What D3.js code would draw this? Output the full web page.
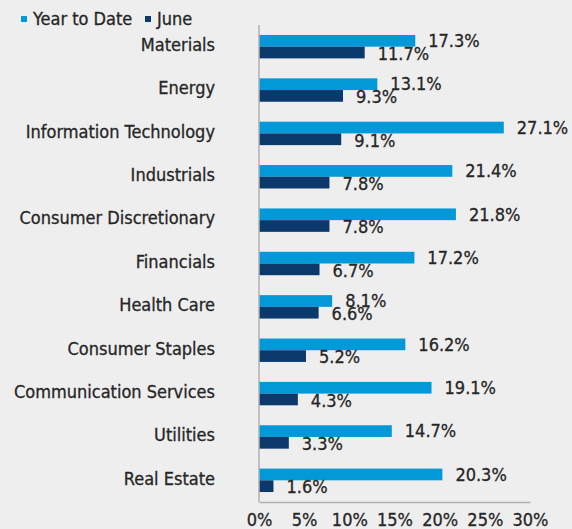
<!DOCTYPE html>
<html>
<head>
<meta charset="utf-8">
<script src="https://cdn.jsdelivr.net/npm/d3@7"></script>
<style>
  body { margin: 0; background: #eeeeee; }
  svg text { font-family: "Liberation Sans Narrow", "Arial Narrow", "DejaVu Sans Condensed", sans-serif; fill: #262626; stroke: #262626; stroke-width: 0.3px; }
</style>
</head>
<body>
<div id="chart"></div>
<script>
var WIDTH = 572, HEIGHT = 529;

// chart data
var categories = ['Materials', 'Energy', 'Information Technology', 'Industrials',
    'Consumer Discretionary', 'Financials', 'Health Care', 'Consumer Staples',
    'Communication Services', 'Utilities', 'Real Estate'];
var yearToDate = [17.3, 13.1, 27.1, 21.4, 21.8, 17.2, 8.1, 16.2, 19.1, 14.7, 20.3];
var june = [11.7, 9.3, 9.1, 7.8, 7.8, 6.7, 6.6, 5.2, 4.3, 3.3, 1.6];
var seriesNames = ['Year to Date', 'June'];
var tickValues = [0, 5, 10, 15, 20, 25, 30];

var YTD_COLOR = '#0399d8';
var JUNE_COLOR = '#0c396b';

var svg = d3.select('#chart')
    .append('svg')
    .attr('width', WIDTH)
    .attr('height', HEIGHT);

svg.append('rect')
    .attr('width', WIDTH).attr('height', HEIGHT)
    .attr('fill', '#eeeeee');

var x = d3.scaleLinear().domain([0, 30]).range([259, 530]);
var y = d3.scaleBand().domain(categories).range([25, 502])
    .paddingInner(0.46).paddingOuter(0.23);
var barH = y.bandwidth() / 2;

var rows = categories.map(function(c, i) {
    return {cat: c, ytd: yearToDate[i], jun: june[i]};
});

// bars
var g = svg.selectAll('g.row').data(rows).enter()
    .append('g').classed('row', true)
    .attr('transform', function(d) { return 'translate(0,' + y(d.cat) + ')'; });

g.append('rect')
    .attr('x', x(0))
    .attr('y', 0)
    .attr('width', function(d) { return x(d.ytd) - x(0); })
    .attr('height', barH)
    .attr('fill', YTD_COLOR);

g.append('rect')
    .attr('x', x(0))
    .attr('y', barH)
    .attr('width', function(d) { return x(d.jun) - x(0); })
    .attr('height', barH)
    .attr('fill', JUNE_COLOR);

// value labels
g.append('text')
    .attr('x', function(d) { return x(d.ytd) + 13; })
    .attr('y', barH / 2)
    .attr('dy', '0.35em')
    .style('font-size', '18px')
    .text(function(d) { return d.ytd.toFixed(1) + '%'; });

g.append('text')
    .attr('x', function(d) { return x(d.jun) + 13; })
    .attr('y', barH * 1.5 + 1)
    .attr('dy', '0.35em')
    .style('font-size', '18px')
    .text(function(d) { return d.jun.toFixed(1) + '%'; });

// category labels
g.append('text')
    .attr('x', 215)
    .attr('y', barH - 2)
    .attr('dy', '0.35em')
    .attr('text-anchor', 'end')
    .style('font-size', '18px')
    .text(function(d) { return d.cat; });

// axes
var xAxis = d3.axisBottom(x)
    .tickValues(tickValues)
    .tickSize(0)
    .tickPadding(11)
    .tickFormat(function(d) { return d + '%'; });

var axG = svg.append('g')
    .attr('transform', 'translate(0,502)')
    .call(xAxis);
axG.select('.domain').attr('stroke', '#b0b0b0').attr('stroke-width', 1.5);
axG.selectAll('text').style('font-size', '18px').attr('fill', '#262626');

svg.append('line')
    .attr('x1', x(0)).attr('x2', x(0))
    .attr('y1', 25).attr('y2', 502)
    .attr('stroke', '#b0b0b0')
    .attr('stroke-width', 1.5);

// legend
var legendX = [21, 145];
var lg = svg.selectAll('g.legend').data(seriesNames).enter()
    .append('g').classed('legend', true)
    .attr('transform', function(d, i) { return 'translate(' + legendX[i] + ',0)'; });

lg.append('rect')
    .attr('x', 0).attr('y', 16)
    .attr('width', 6).attr('height', 6)
    .attr('fill', function(d, i) { return i === 0 ? YTD_COLOR : JUNE_COLOR; });

lg.append('text')
    .attr('x', 12)
    .attr('y', 18.5)
    .attr('dy', '0.35em')
    .style('font-size', '18px')
    .text(function(d) { return d; });
</script>
</body>
</html>
